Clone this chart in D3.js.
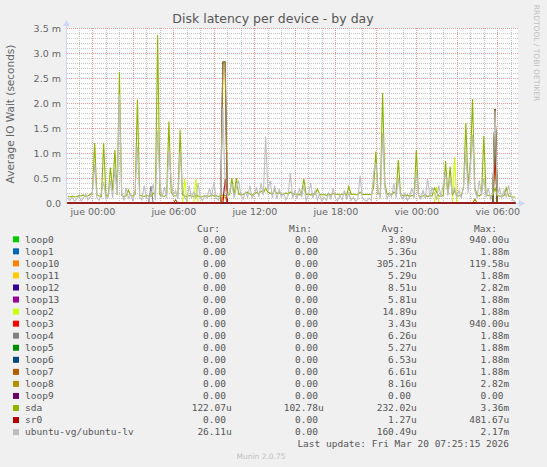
<!DOCTYPE html>
<meta charset="utf-8">
<script src="https://d3js.org/d3.v7.min.js"></script>
<style>
    body { margin: 0; background: #f0f0f0; }
    text { font-family: "DejaVu Sans", sans-serif; }
    .legend text { font-family: "DejaVu Sans Mono", monospace; font-size: 9.5px; fill: #555; }
    .grid line { shape-rendering: crispEdges; }
</style>

<body>
    <div id="chart"></div>
</body>
<script>

    // devices, in the order munin draws them
    var devices = ["loop0", "loop1", "loop10", "loop11", "loop12", "loop13", "loop2", "loop3", "loop4",
        "loop5", "loop6", "loop7", "loop8", "loop9", "sda", "sr0", "ubuntu-vg/ubuntu-lv"];
    var deviceColors = ["#00cc00", "#0066b3", "#ff8000", "#ffcc00", "#330099", "#990099", "#ccff00", "#ff0000", "#808080",
        "#008f00", "#00487d", "#b35a00", "#b38f00", "#6b006b", "#8fb300", "#b30000", "#bebebe"];

    var curVals = ["0.00", "0.00", "0.00", "0.00", "0.00", "0.00", "0.00", "0.00", "0.00",
        "0.00", "0.00", "0.00", "0.00", "0.00", "122.07u", "0.00", "26.11u"];
    var minVals = ["0.00", "0.00", "0.00", "0.00", "0.00", "0.00", "0.00", "0.00", "0.00",
        "0.00", "0.00", "0.00", "0.00", "0.00", "102.78u", "0.00", "0.00"];
    var avgVals = ["3.89u", "5.36u", "305.21n", "5.29u", "8.51u", "5.81u", "14.89u", "3.43u", "6.26u",
        "5.27u", "6.53u", "6.61u", "8.16u", "0.00", "232.02u", "1.27u", "160.49u"];
    var maxVals = ["940.00u", "1.88m", "119.58u", "1.88m", "2.82m", "1.88m", "1.88m", "940.00u", "1.88m",
        "1.88m", "1.88m", "1.88m", "2.82m", "0.00", "3.36m", "481.67u", "2.17m"];

    // samples every 10 minutes from Wed 22:10, values in ms; one row = one hour
    var sdaValues = [
        0.13, 0.12, 0.14, 0.12, 0.13, 0.15,
        0.14, 0.16, 0.13, 0.14, 0.17, 0.22,
        1.20, 0.16, 0.14, 0.13, 1.20, 0.15,
        0.14, 0.71, 0.25, 1.06, 0.16, 2.62,
        0.15, 0.13, 0.14, 0.26, 0.15, 0.14,
        0.17, 2.07, 0.16, 0.14, 0.13, 0.15,
        0.14, 0.13, 0.20, 0.15, 3.36, 0.16,
        0.14, 0.13, 0.18, 1.63, 0.22, 0.15,
        0.14, 0.16, 1.47, 0.17, 0.14, 0.13,
        0.15, 0.14, 0.13, 0.16, 0.14, 0.12,
        0.13, 0.15, 0.14, 0.13, 0.16, 0.14,
        0.15, 0.13, 0.14, 0.16, 0.15, 0.14,
        0.17, 0.50, 0.16, 0.50, 0.18, 0.16,
        0.17, 0.19, 0.22, 0.18, 0.16, 0.19,
        0.21, 0.18, 0.24, 0.19, 0.30, 0.22,
        0.20, 0.17, 0.26, 0.19, 0.21, 0.18,
        0.17, 0.20, 0.18, 0.22, 0.19, 0.17,
        0.18, 0.16, 0.19, 0.48, 0.17, 0.18,
        0.16, 0.19, 0.17, 0.28, 0.18, 0.16,
        0.17, 0.15, 0.18, 0.16, 0.19, 0.17,
        0.18, 0.16, 0.17, 0.19, 0.16, 0.33,
        0.17, 0.18, 0.16, 0.17, 0.22, 0.17,
        0.17, 0.17, 0.17, 0.17, 0.30, 1.03,
        0.18, 0.20, 2.20, 0.40, 0.17, 0.19,
        0.16, 0.22, 0.18, 0.86, 0.17, 0.15,
        0.14, 0.16, 0.13, 0.15, 0.14, 1.06,
        0.15, 0.13, 0.14, 0.16, 0.13, 0.15,
        0.14, 0.30, 0.22, 0.14, 0.13, 0.15,
        0.84, 0.16, 0.73, 0.15, 0.25, 0.14,
        0.14, 0.16, 0.30, 1.60, 0.35, 0.81,
        2.08, 0.30, 0.16, 0.14, 0.18, 1.34,
        0.17, 0.15, 0.14, 0.16, 0.30, 0.15,
        0.14, 0.13, 0.15, 0.30, 0.14, 0.13,
        0.12, 0.12
    ];
    var lvValues = [
        0.10, 0.05, 0.12, 0.03, 0.08, 0.14,
        0.04, 0.10, 0.18, 0.06, 0.12, 0.20,
        0.78, 0.10, 0.05, 0.22, 0.42, 0.08,
        0.12, 0.45, 0.10, 0.70, 0.15, 2.17,
        0.20, 0.05, 0.30, 0.10, 0.18, 0.04,
        0.25, 1.13, 0.12, 0.06, 0.35, 0.10,
        0.08, 0.15, 0.38, 0.05, 1.45, 0.40,
        0.12, 0.32, 0.10, 1.05, 0.45, 0.15,
        0.25, 0.08, 1.00, 0.30, 0.10, 0.05,
        0.35, 0.12, 0.22, 0.08, 0.40, 0.10,
        0.05, 0.15, 0.10, 0.30, 0.12, 0.42,
        0.10, 0.06, 0.20, 1.90, 0.35, 0.12,
        0.25, 0.38, 0.10, 0.30, 0.45, 0.15,
        0.08, 0.22, 0.12, 0.35, 0.10, 0.20,
        0.30, 0.12, 0.40, 0.15, 1.33, 0.25,
        0.45, 0.10, 0.35, 0.08, 0.28, 0.12,
        0.20, 0.06, 0.15, 0.60, 0.10, 0.25,
        0.08, 0.30, 0.12, 0.35, 0.05, 0.15,
        0.40, 0.10, 0.25, 0.06, 0.18, 0.03,
        0.12, 0.05, 0.20, 0.08, 0.30, 0.10,
        0.04, 0.15, 0.06, 0.25, 0.08, 0.20,
        0.05, 0.12, 0.03, 0.08, 0.55, 0.10,
        0.06, 0.04, 0.10, 0.05, 0.60, 0.80,
        0.25, 0.10, 1.40, 0.30, 0.08, 0.20,
        0.12, 0.40, 0.10, 0.50, 0.15, 0.08,
        0.20, 0.05, 0.12, 0.30, 0.10, 0.63,
        0.15, 0.08, 0.25, 0.10, 0.50, 0.12,
        0.30, 0.20, 0.08, 0.35, 0.12, 0.40,
        0.60, 0.15, 0.50, 0.20, 0.30, 0.12,
        0.25, 0.10, 0.35, 1.03, 0.20, 0.70,
        1.36, 0.25, 0.10, 0.45, 0.15, 0.50,
        0.12, 0.30, 0.08, 0.20, 1.85, 0.15,
        0.30, 0.10, 0.25, 0.12, 0.35, 0.15,
        0.05, 0.03
    ];
    // the other devices sit at 0 except these [sample index, ms] blips
    var deviceBlips = [
        [[190, 0.94]],                                  // loop0
        [[190, 1.88]],                                  // loop1
        [[69, 0.12], [70, 0.12]],                       // loop10
        [[190, 1.88]],                                  // loop11
        [[69, 2.82], [70, 2.82]],                       // loop12
        [[190, 1.88]],                                  // loop13
        [[52, 0.48], [57, 0.48], [164, 0.32], [172, 0.91], [190, 1.88]], // loop2
        [[190, 0.94]],                                  // loop3
        [[37, 0.34], [190, 1.88]],                      // loop4
        [[190, 1.88]],                                  // loop5
        [[190, 1.88]],                                  // loop6
        [[48, 0.06], [190, 1.88]],                      // loop7
        [[69, 2.82], [70, 2.82], [181, 0.08]],          // loop8
        [],                                             // loop9
        null,                                           // sda
        [[70, 0.48]],                                   // sr0
        null                                            // ubuntu-lv
    ];

    var yTicks = [0, 0.5, 1, 1.5, 2, 2.5, 3, 3.5];
    var dayNames = ["dom", "lun", "mar", "mié", "jue", "vie", "sáb"];

    var width = 547, height = 467;
    var plotLeft = 67, plotRight = 518, plotTop = 28, plotBottom = 203;

    var startTime = new Date(2026, 2, 18, 22, 7);
    var endTime = new Date(2026, 2, 20, 7, 32);
    var firstSample = new Date(2026, 2, 18, 22, 10);

    var svg = d3.select("#chart")
        .append("svg")
        .attr("width", width)
        .attr("height", height)

    svg.append("rect").attr("width", width).attr("height", height).attr("fill", "#f0f0f0")

    var x = d3.scaleTime().domain([startTime, endTime]).range([plotLeft, plotRight])
    var y = d3.scaleLinear().domain([0, 3.5]).range([plotBottom, plotTop])

    svg.append("rect")
        .attr("x", plotLeft).attr("y", plotTop)
        .attr("width", plotRight - plotLeft).attr("height", plotBottom - plotTop)
        .attr("fill", "#ffffff")

    // grid
    var px = function (v) { return Math.round(v) + 0.5 }
    var minorY = d3.range(1, 36).map(function (d) { return d / 10 }).filter(function (d) { return Math.round(d * 10) % 5 != 0 })
    var majorY = yTicks.slice(1)
    var minorX = d3.timeHour.range(startTime, endTime).filter(function (d) { return d.getHours() % 3 != 0 })
    var majorX = d3.timeHour.every(3).range(startTime, endTime)

    var grid = svg.append("g").attr("class", "grid").attr("fill", "none")
    function hLines(vals, color) {
        grid.append("g").selectAll("line").data(vals).enter().append("line")
            .attr("x1", plotLeft).attr("x2", plotRight)
            .attr("y1", function (d) { return px(y(d)) }).attr("y2", function (d) { return px(y(d)) })
            .attr("stroke", color).attr("stroke-dasharray", "1,1")
    }
    function vLines(vals, color) {
        grid.append("g").selectAll("line").data(vals).enter().append("line")
            .attr("y1", plotTop).attr("y2", plotBottom)
            .attr("x1", function (d) { return px(x(d)) }).attr("x2", function (d) { return px(x(d)) })
            .attr("stroke", color).attr("stroke-dasharray", "1,1")
    }
    hLines(minorY, "#c6c6c6")
    vLines(minorX, "#c6c6c6")
    hLines(majorY, "#e89a9a")
    vLines(majorX, "#e89a9a")

    // axes with arrows
    var axisColor = "#cfd6f8"
    svg.append("line").attr("x1", plotLeft).attr("x2", plotRight + 2)
        .attr("y1", plotBottom + 0.5).attr("y2", plotBottom + 0.5).attr("stroke", axisColor)
    svg.append("line").attr("x1", plotLeft - 0.5).attr("x2", plotLeft - 0.5)
        .attr("y1", plotBottom + 1).attr("y2", plotTop - 3).attr("stroke", axisColor)
    svg.append("path").attr("d", "M" + (plotRight + 7) + "," + (plotBottom + 0.5) + "l-6,-3.5v7z").attr("fill", axisColor)
    svg.append("path").attr("d", "M" + (plotLeft - 0.5) + "," + (plotTop - 8) + "l-3.5,6h7z").attr("fill", axisColor)

    // series
    var sampleTime = function (i) { return d3.timeMinute.offset(firstSample, i * 10) }
    var line = d3.line()
        .x(function (d, i) { return x(sampleTime(i)) })
        .y(function (d) { return y(d) })

    var series = devices.map(function (name, k) {
        if (name == "sda") return sdaValues;
        if (name == "ubuntu-vg/ubuntu-lv") return lvValues;
        var vals = sdaValues.map(function () { return 0 });
        deviceBlips[k].forEach(function (b) { vals[b[0]] = b[1] });
        return vals;
    })

    svg.append("g").selectAll("path").data(series).enter().append("path")
        .attr("d", line)
        .attr("fill", "none")
        .attr("stroke", function (d, k) { return deviceColors[k] })
        .attr("stroke-width", 1.1)

    // tick labels
    var yAxis = svg.append("g").attr("transform", "translate(" + (plotLeft - 6) + ",0)")
        .call(d3.axisLeft(y).tickValues(yTicks).tickSize(0)
            .tickFormat(function (d) { return d == 0 ? "0.0" : d3.format(".1f")(d) + " m" }))
    yAxis.select(".domain").remove()
    yAxis.selectAll("text").attr("font-size", "9.5px").attr("fill", "#666").attr("x", 0)
        .style("font-family", "DejaVu Sans")

    var xAxis = svg.append("g").attr("transform", "translate(0," + (plotBottom + 4) + ")")
        .call(d3.axisBottom(x).tickValues(d3.timeHour.every(6).range(startTime, endTime)).tickSize(0)
            .tickFormat(function (d) { return dayNames[d.getDay()] + " " + d3.timeFormat("%H:%M")(d) }))
    xAxis.select(".domain").remove()
    xAxis.selectAll("text").attr("font-size", "9.5px").attr("fill", "#666").attr("y", 1)
        .style("font-family", "DejaVu Sans")

    // titles
    svg.append("text").attr("x", 273).attr("y", 23).attr("text-anchor", "middle")
        .attr("font-size", "12.5px").attr("fill", "#555").text("Disk latency per device - by day")
    svg.append("text").attr("transform", "translate(14,114) rotate(-90)").attr("text-anchor", "middle")
        .attr("font-size", "10.5px").attr("fill", "#666").text("Average IO Wait (seconds)")
    svg.append("text").attr("transform", "translate(534,53) rotate(90)").attr("text-anchor", "middle")
        .attr("font-size", "7.5px").attr("fill", "#c0c0c0").text("RRDTOOL / TOBI OETIKER")

    // legend
    var legend = svg.append("g").attr("class", "legend")
    var rowY = function (i) { return 239.3 + i * 12.05 }
    var headers = [["Cur:", 220], ["Min:", 312], ["Avg:", 404.5], ["Max:", 497]]
    headers.forEach(function (h) {
        legend.append("text").attr("x", h[1]).attr("y", 228.3).attr("dy", "0.35em")
            .attr("text-anchor", "end").text(h[0])
    })
    var columns = [[curVals, 226], [minVals, 318], [avgVals, 411], [maxVals, 503.5]]
    devices.forEach(function (name, i) {
        legend.append("rect").attr("x", 13).attr("y", rowY(i) - 3).attr("width", 6).attr("height", 6)
            .attr("fill", deviceColors[i])
        legend.append("text").attr("x", 25).attr("y", rowY(i)).attr("dy", "0.35em").text(name)
        columns.forEach(function (c) {
            var s = c[0][i];
            var unit = /[a-z]$/.test(s) ? s.slice(-1) : "";
            legend.append("text").attr("x", c[1]).attr("y", rowY(i)).attr("dy", "0.35em")
                .attr("text-anchor", "end").text(unit ? s.slice(0, -1) : s)
            if (unit) legend.append("text").attr("x", c[1]).attr("y", rowY(i)).attr("dy", "0.35em").text(unit)
        })
    })
    legend.append("text").attr("x", 509).attr("y", 443.3).attr("dy", "0.35em").attr("text-anchor", "end")
        .text("Last update: Fri Mar 20 07:25:15 2026")

    svg.append("text").attr("x", 261).attr("y", 458.5).attr("text-anchor", "middle")
        .attr("font-size", "7.5px").attr("fill", "#c0c0c0").text("Munin 2.0.75")
</script>
